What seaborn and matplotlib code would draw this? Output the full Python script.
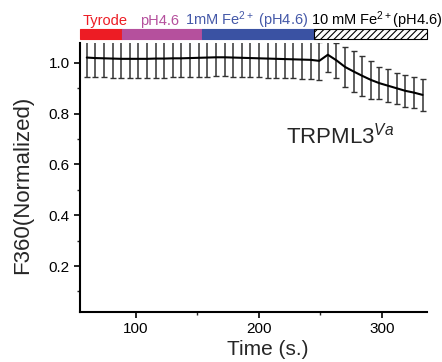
import matplotlib
matplotlib.use("Agg")

import matplotlib.pyplot as plt
import matplotlib.transforms as mtransforms
import numpy as np
import pandas as pd
import seaborn as sns

# time points (s) and normalized F360 with SEM
time_s = [60 + 7 * i for i in range(40)]
f360 = [1.021, 1.019, 1.018, 1.017, 1.016, 1.016, 1.016, 1.016, 1.017, 1.017,
        1.018, 1.018, 1.019, 1.020, 1.021, 1.022, 1.022, 1.021, 1.020, 1.019,
        1.018, 1.017, 1.016, 1.015, 1.014, 1.013, 1.012, 1.008, 1.032, 1.010,
        0.984, 0.966, 0.949, 0.933, 0.920, 0.910, 0.900, 0.890, 0.883, 0.874]
sem = [0.075, 0.075, 0.075, 0.075, 0.075, 0.075, 0.075, 0.075, 0.075, 0.075,
       0.075, 0.075, 0.075, 0.075, 0.075, 0.075, 0.075, 0.075, 0.075, 0.075,
       0.075, 0.075, 0.075, 0.075, 0.075, 0.075, 0.075, 0.075, 0.068, 0.070,
       0.080, 0.082, 0.078, 0.075, 0.064, 0.065, 0.061, 0.064, 0.060, 0.062]

# solution periods on top bar
period_start = [54.5, 89, 154, 245]
period_end = [89, 154, 245, 336.6]
period_labels = ["Tyrode", "pH4.6", "1mM Fe$^{2+}$ (pH4.6)", "10 mM Fe$^{2+}$(pH4.6)"]
period_label_x = [75, 119.5, 190, 295.5]
period_colors = ["#ED1C24", "#B5509D", "#3A52A3", "white"]
label_colors = ["#ED1C24", "#B5509D", "#4458A8", "black"]

df = pd.DataFrame({"time": time_s, "f360": f360, "sem": sem})

sns.set_style("ticks")
plt.rcParams["font.family"] = ["Liberation Sans", "DejaVu Sans"]
plt.rcParams["mathtext.fontset"] = "custom"
plt.rcParams["mathtext.rm"] = "Liberation Sans"
plt.rcParams["mathtext.it"] = "Liberation Sans:italic"
plt.rcParams["hatch.linewidth"] = 0.8

fig = plt.figure(figsize=(4.42, 3.62), dpi=100)
ax = fig.add_axes([0.181, 0.138, 0.785, 0.743])

ax.errorbar(df["time"], df["f360"], yerr=df["sem"], fmt="none",
            ecolor="#333333", elinewidth=1.1, capsize=2.2, capthick=1.0)
sns.lineplot(data=df, x="time", y="f360", ax=ax, color="black", linewidth=1.5)

ax.set_xlim(54.5, 336.6)
ax.set_ylim(0.019, 1.078)
ax.set_xticks([100, 200, 300])
ax.set_xticks([150, 250], minor=True)
ax.set_yticks([0.2, 0.4, 0.6, 0.8, 1.0])
ax.set_yticks([0.1, 0.3, 0.5, 0.7, 0.9], minor=True)
ax.tick_params(axis="both", which="major", direction="out", length=4, width=1.2,
               labelsize=11, colors="black")
ax.tick_params(axis="both", which="minor", direction="out", length=2.5, width=1.0)
ax.set_xlabel("Time (s.)", fontsize=15)
ax.set_ylabel("F360(Normalized)", fontsize=16)
ax.xaxis.set_label_coords(0.54, -0.105)
ax.yaxis.set_label_coords(-0.135, 0.472)
sns.despine(ax=ax)
for side in ["left", "bottom"]:
    ax.spines[side].set_linewidth(1.5)
    ax.spines[side].set_color("black")

ax.text(222, 0.684, "TRPML3$^{Va}$", fontsize=16, ha="left", va="baseline")

# top bar indicating solutions
trans = mtransforms.blended_transform_factory(ax.transData, ax.transAxes)
for s, e, c in zip(period_start, period_end, period_colors):
    rect = plt.Rectangle((s, 1.015), e - s, 0.037, transform=trans,
                         facecolor=c, edgecolor="black" if c == "white" else c,
                         linewidth=0.8, hatch="/////" if c == "white" else None,
                         clip_on=False)
    ax.add_patch(rect)
for lx, lab, lc in zip(period_label_x, period_labels, label_colors):
    ax.text(lx, 1.068, lab, transform=trans, ha="center", va="baseline",
            fontsize=10.5, color=lc, clip_on=False)

fig.savefig("out.png", dpi=100)
